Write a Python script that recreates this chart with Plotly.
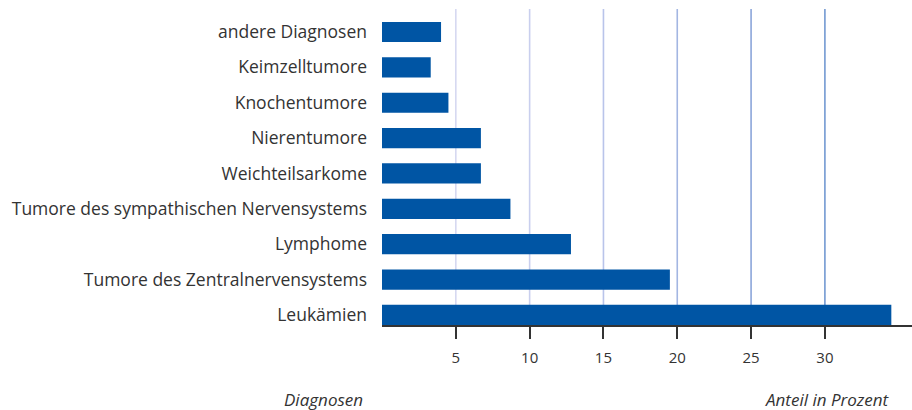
import plotly.graph_objects as go

# Diagnosen (von unten nach oben) und Anteil in Prozent
diagnosen = [
    "Leukämien",
    "Tumore des Zentralnervensystems",
    "Lymphome",
    "Tumore des sympathischen Nervensystems",
    "Weichteilsarkome",
    "Nierentumore",
    "Knochentumore",
    "Keimzelltumore",
    "andere Diagnosen",
]
anteil = [34.5, 19.5, 12.8, 8.7, 6.7, 6.7, 4.5, 3.3, 4.0]

tick_vals = [5, 10, 15, 20, 25, 30]
grid_colors = ["#d6d9f1", "#c9cfee", "#b9c4ea", "#a3b6e2", "#8ba6da", "#7399d2"]

fig = go.Figure()
fig.add_trace(go.Bar(
    x=anteil, y=diagnosen, orientation="h",
    marker=dict(color="#0055a4", line=dict(width=0)),
    width=0.57,
))

# farblich abgestufte Gitterlinien
for v, c in zip(tick_vals, grid_colors):
    fig.add_shape(type="line", xref="x", yref="paper", x0=v, x1=v, y0=0, y1=1,
                  line=dict(color=c, width=1.6), layer="below")

fig.add_annotation(text="<i>Diagnosen</i>", xref="paper", yref="paper", x=-0.032, y=-0.235,
                   xanchor="right", yanchor="middle", showarrow=False,
                   font=dict(size=17, color="#333333"))
fig.add_annotation(text="<i>Anteil in Prozent</i>", xref="paper", yref="paper", x=0.962, y=-0.235,
                   xanchor="right", yanchor="middle", showarrow=False,
                   font=dict(size=17, color="#333333"))

fig.update_layout(
    width=912, height=410,
    margin=dict(l=382, r=0, t=9, b=85),
    plot_bgcolor="white", paper_bgcolor="white",
    font=dict(family="Open Sans", size=17.5, color="#333333"),
    showlegend=False,
    xaxis=dict(range=[0, 35.9], tickvals=tick_vals, showgrid=False, zeroline=False,
               showline=True, linecolor="#333333", linewidth=1.5,
               ticks="outside", ticklen=12, tickwidth=1.5, tickcolor="#333333",
               tickfont=dict(size=15), ticklabelstandoff=6),
    yaxis=dict(range=[-0.285, 8.65], showgrid=False, zeroline=False, showline=False,
               ticks="", ticklabelstandoff=14),
)

fig.write_html("out.html", config={"displayModeBar": False},
               post_script="document.body.style.margin='0';document.body.style.overflow='hidden';")
